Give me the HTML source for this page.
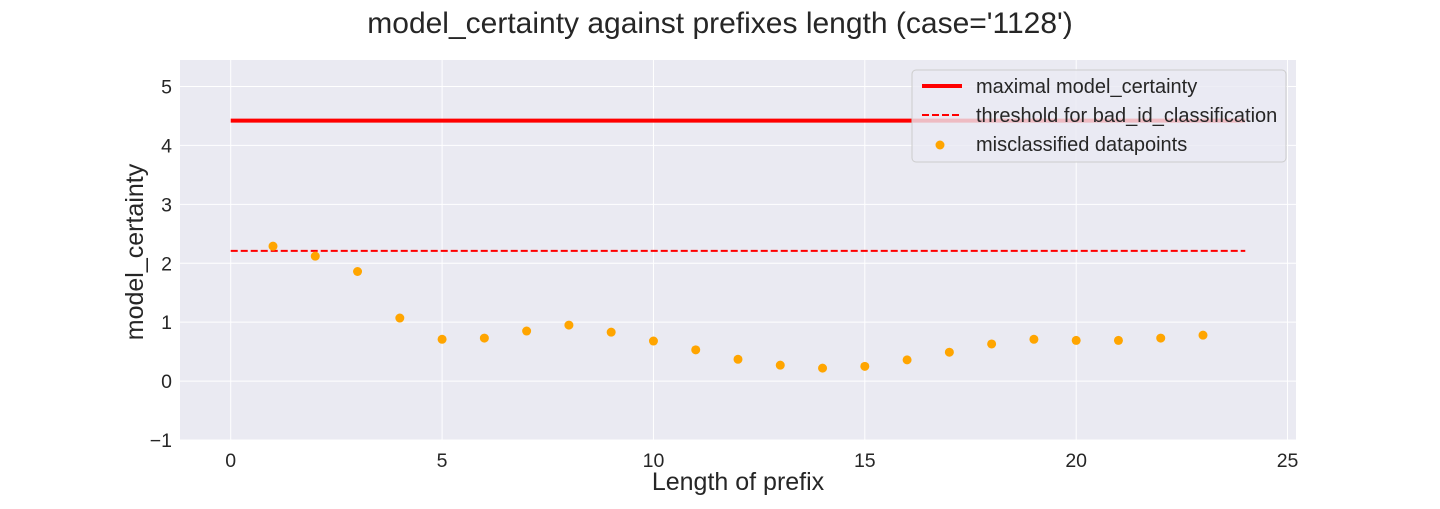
<!DOCTYPE html>
<html><head><meta charset="utf-8"><style>
body{margin:0;background:#fff;font-family:"Liberation Sans",Arial,sans-serif;}
svg text{font-family:"Liberation Sans",Arial,sans-serif;}
</style></head><body>
<svg id="chart" width="1440" height="504" xmlns="http://www.w3.org/2000/svg">
<rect width="1440" height="504" fill="#fff"/>
<text x="720" y="33" font-size="30" text-anchor="middle" fill="#262626">model_certainty against prefixes length (case='1128')</text>
<rect x="180" y="60" width="1116" height="380" fill="#eaeaf2"/>
<g id="grid"></g>
<g id="marks"></g>
<g id="ticks"></g>
<text x="738" y="490" font-size="25" text-anchor="middle" fill="#262626">Length of prefix</text>
<text x="0" y="0" font-size="25" text-anchor="middle" fill="#262626" transform="translate(143,252) rotate(-90)">model_certainty</text>
<g>
<rect x="912" y="70" width="374" height="92" rx="4" fill="#eaeaf2" fill-opacity="0.8" stroke="#ccc"/>
<line x1="922" y1="86" x2="962" y2="86" stroke="red" stroke-width="4"/>
<text x="976" y="93" font-size="20" fill="#262626">maximal model_certainty</text>
<line x1="922" y1="115" x2="962" y2="115" stroke="red" stroke-width="2" stroke-dasharray="7,3"/>
<text x="976" y="122" font-size="20" fill="#262626">threshold for bad_id_classification</text>
<circle cx="940" cy="145" r="4.5" fill="orange"/>
<text x="976" y="151" font-size="20" fill="#262626">misclassified datapoints</text>
</g>
</svg>
<script>
const xs=[1,2,3,4,5,6,7,8,9,10,11,12,13,14,15,16,17,18,19,20,21,22,23];
const ys=[2.29,2.12,1.86,1.07,0.71,0.73,0.85,0.95,0.83,0.68,0.53,0.37,0.27,0.22,0.25,0.36,0.49,0.63,0.71,0.69,0.69,0.73,0.78];
const maxCertainty=4.42;
const threshold=2.21;
const lineRange=[0,24];
const xTicks=[0,5,10,15,20,25];
const yTicks=[-1,0,1,2,3,4,5];
const yTickLabels=["\u22121","0","1","2","3","4","5"];
const X=v=>180+(v+1.2)/26.4*1116;
const Y=v=>440-(v+1)/6.45*380;
const NS="http://www.w3.org/2000/svg";
function mk(t,a,p){const e=document.createElementNS(NS,t);for(const k in a)e.setAttribute(k,a[k]);p.appendChild(e);return e;}
const grid=document.getElementById('grid'),marks=document.getElementById('marks'),ticks=document.getElementById('ticks');
xTicks.forEach(t=>{const l=mk('line',{x1:X(t),x2:X(t),y1:60,y2:440,stroke:'#fff','stroke-width':1},grid);

const tx=mk('text',{x:X(t),y:467,'font-size':19.5,'text-anchor':'middle',fill:'#262626'},ticks);tx.textContent=t;
});
yTicks.forEach((t,i)=>{const l=mk('line',{x1:180,x2:1296,y1:Y(t),y2:Y(t),stroke:'#fff','stroke-width':1},grid);

const tx=mk('text',{x:172,y:Y(t)+7,'font-size':19.5,'text-anchor':'end',fill:'#262626'},ticks);tx.textContent=yTickLabels[i];
});
const m=mk('line',{x1:X(lineRange[0]),x2:X(lineRange[1]),y1:Y(maxCertainty),y2:Y(maxCertainty),stroke:'red','stroke-width':4},marks);

const th=mk('line',{x1:X(lineRange[0]),x2:X(lineRange[1]),y1:Y(threshold),y2:Y(threshold),stroke:'red','stroke-width':2,'stroke-dasharray':'7,3'},marks);

xs.forEach((x,i)=>{const c=mk('circle',{cx:X(x),cy:Y(ys[i]),r:4.5,fill:'orange'},marks);
});
</script>
</body></html>
